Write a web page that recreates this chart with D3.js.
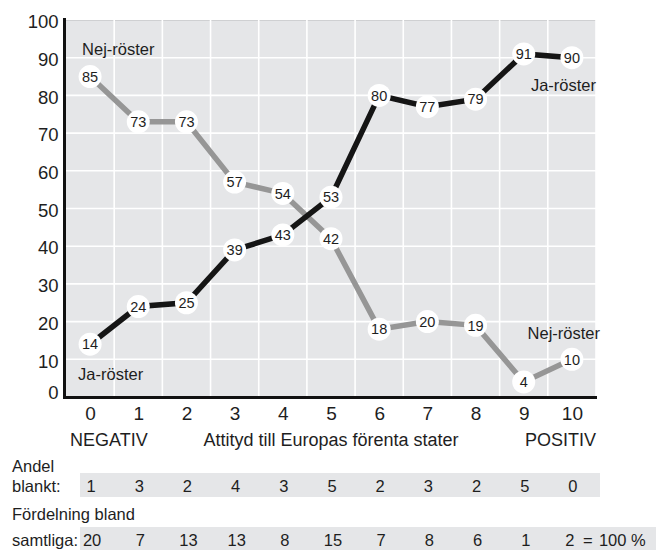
<!DOCTYPE html>
<html><head><meta charset="utf-8">
<script src="https://cdn.jsdelivr.net/npm/d3@7"></script>
<style>
body{margin:0;background:#fff;}
svg{display:block;font-family:"Liberation Sans",Arial,Helvetica,sans-serif;}
</style></head>
<body><svg id="chart" width="656" height="550"></svg>
<script>
const categories = [0,1,2,3,4,5,6,7,8,9,10];
const jaRoster = [14,24,25,39,43,53,80,77,79,91,90];
const nejRoster = [85,73,73,57,54,42,18,20,19,4,10];
const andelBlankt = [1,3,2,4,3,5,2,3,2,5,0];
const fordelning = [20,7,13,13,8,15,7,8,6,1,2];
const yTicks = [0,10,20,30,40,50,60,70,80,90,100];

const svg = d3.select("#chart");
const x = d3.scaleLinear().domain([-0.5,10.5]).range([66,596]);
const y = d3.scaleLinear().domain([0,100]).range([397,20]);
const txt = "#1e1e1e";

// plot background
svg.append("rect").attr("x",x(-0.5)).attr("y",y(100)).attr("width",x(10.5)-x(-0.5)).attr("height",y(0)-y(100)).attr("fill","#e5e6e8");
svg.append("line").attr("x1",x(-0.5)).attr("x2",x(10.5)).attr("y1",y(100)+0.5).attr("y2",y(100)+0.5).attr("stroke","#cfd0d2").attr("stroke-width",1);
// grid
svg.append("g").selectAll("line").data(yTicks.filter(d=>d>0 && d<100)).join("line")
  .attr("x1",x(-0.5)).attr("x2",x(10.5)).attr("y1",d=>y(d)).attr("y2",d=>y(d))
  .attr("stroke","#fff").attr("stroke-width",1.6);
svg.append("g").selectAll("line").data(categories.map(d=>d+0.5)).join("line")
  .attr("x1",d=>x(d)).attr("x2",d=>x(d)).attr("y1",y(100)).attr("y2",y(0))
  .attr("stroke","#fff").attr("stroke-width",1.6);

// axes
const yAxis = svg.append("g").attr("transform",`translate(${x(-0.5)-1.5},0)`)
  .call(d3.axisLeft(y).tickValues(yTicks).tickSize(0).tickPadding(6).tickSizeOuter(0));
yAxis.select(".domain").remove();
yAxis.selectAll("text").attr("font-size",18.5).attr("fill",txt).attr("font-family","Liberation Sans, Arial, sans-serif")
  .attr("dy",d=>d===0?"0.1em":"0.42em");
svg.append("line").attr("x1",x(-0.5)-1.5).attr("x2",x(-0.5)-1.5).attr("y1",y(100)-2).attr("y2",y(0)+1.5)
  .attr("stroke","#111").attr("stroke-width",3);

const xAxis = svg.append("g").attr("transform",`translate(0,${y(0)})`)
  .call(d3.axisBottom(x).tickValues(categories).tickSize(0).tickPadding(10).tickFormat(d3.format("d")));
xAxis.select(".domain").remove();
xAxis.selectAll("text").attr("font-size",19).attr("fill",txt).attr("font-family","Liberation Sans, Arial, sans-serif");
svg.append("line").attr("x1",x(-0.5)-3).attr("x2",x(10.5)+1).attr("y1",y(0)+0.5).attr("y2",y(0)+0.5)
  .attr("stroke","#111").attr("stroke-width",3);

// lines
const line = d3.line().x((d,i)=>x(categories[i])).y(d=>y(d));
svg.append("path").datum(nejRoster).attr("d",line).attr("fill","none").attr("stroke","#969696").attr("stroke-width",5.5);
svg.append("path").datum(jaRoster).attr("d",line).attr("fill","none").attr("stroke","#151515").attr("stroke-width",5.5);

// markers
function markers(data){
  const g = svg.append("g");
  g.selectAll("circle").data(data).join("circle")
    .attr("cx",(d,i)=>x(categories[i])).attr("cy",d=>y(d)).attr("r",11.5).attr("fill","#fff");
  g.selectAll("text").data(data).join("text")
    .attr("x",(d,i)=>x(categories[i])).attr("y",d=>y(d)).attr("dy","0.36em")
    .attr("text-anchor","middle").attr("font-size",14.5).attr("fill",txt).text(d=>d);
}
markers(nejRoster);
markers(jaRoster);

// series annotations
function ann(t,xx,yy,anchor){
  svg.append("text").attr("x",xx).attr("y",yy).attr("text-anchor",anchor)
    .attr("font-size",16.5).attr("fill",txt).text(t);
}
ann("Nej-röster", x(0)-8, y(90)-3, "start");
ann("Ja-röster", x(10.5), y(81.2), "end");
ann("Ja-röster", x(0)-12, y(4.5), "start");
ann("Nej-röster", x(10.5)+4, y(15.5), "end");

// axis titles
svg.append("text").attr("x",x(-0.5)+4).attr("y",446).attr("font-size",18).attr("fill",txt).text("NEGATIV");
svg.append("text").attr("x",x(5)).attr("y",446).attr("text-anchor","middle").attr("font-size",18).attr("fill",txt).text("Attityd till Europas förenta stater");
svg.append("text").attr("x",x(10.5)).attr("y",446).attr("text-anchor","end").attr("font-size",18).attr("fill",txt).text("POSITIV");

// tables
svg.append("rect").attr("x",80).attr("y",473).attr("width",x(10.5)+4-80).attr("height",24).attr("fill","#e5e6e8");
svg.append("rect").attr("x",80).attr("y",527).attr("width",656-80).attr("height",24).attr("fill","#e5e6e8");
svg.append("text").attr("x",12).attr("y",472).attr("font-size",16.5).attr("fill",txt).text("Andel");
svg.append("text").attr("x",12).attr("y",492).attr("font-size",16.5).attr("fill",txt).text("blankt:");
svg.append("text").attr("x",12).attr("y",520).attr("font-size",16.5).attr("fill",txt).text("Fördelning bland");
svg.append("text").attr("x",12).attr("y",546).attr("font-size",16.5).attr("fill",txt).text("samtliga:");
svg.append("g").selectAll("text").data(andelBlankt).join("text")
  .attr("x",(d,i)=>x(categories[i])+1).attr("y",492).attr("text-anchor","middle").attr("font-size",16.5).attr("fill",txt).text(d=>d);
svg.append("g").selectAll("text").data(fordelning).join("text")
  .attr("x",(d,i)=>x(categories[i])+(i===10?-2:2)).attr("y",546).attr("text-anchor","middle").attr("font-size",16.5).attr("fill",txt).text(d=>d);
svg.append("text").attr("x",x(10)+11).attr("y",546).attr("font-size",16.5).attr("fill",txt).text("=");
svg.append("text").attr("x",x(10)+27).attr("y",546).attr("font-size",16.5).attr("fill",txt).text("100 %");
</script></body></html>
